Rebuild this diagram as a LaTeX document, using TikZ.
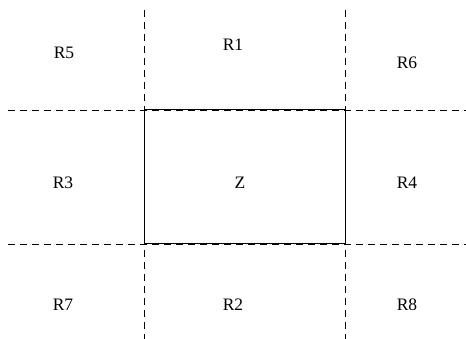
\documentclass[tikz,border=0pt]{standalone}
\usepackage{fontspec}
\setmainfont{Liberation Serif}
\begin{document}
\begin{tikzpicture}[x=1pt,y=-1pt,font=\fontsize{17.5}{20}\selectfont]
\tikzset{grid/.style={dash pattern=on 7pt off 5pt,line width=.8pt}}
\useasboundingbox (0,0) rectangle (466,339);
   \coordinate (nw) at (144,110);
   \coordinate (se) at (345,244);

   \draw[grid] (144,10)  -- (144,339);
   \draw[grid] (345,10)  -- (345,339);
   \draw[grid] (8,110)   -- (466,110);
   \draw[grid] (8,244)   -- (466,244);
   \draw[line width=1pt] (nw) rectangle (se);

   \node at (64,53)   (R5) {R5};
   \node at (233,45)  (R1) {R1};
   \node at (407,63)  (R6) {R6};
   \node at (63,183)  (R3) {R3};
   \node at (240,183) (Z)  {Z};
   \node at (407,183) (R4) {R4};
   \node at (63,305)  (R7) {R7};
   \node at (233,305) (R2) {R2};
   \node at (407,305) (R8) {R8};
\end{tikzpicture}
\end{document}
